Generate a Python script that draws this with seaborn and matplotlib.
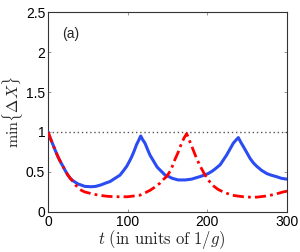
import numpy as np
import pandas as pd
import matplotlib
matplotlib.use('Agg')
import matplotlib.pyplot as plt
import seaborn as sns

# values
t_blue = [0, 3, 6.3, 9.5, 12.5, 15.5, 18.8, 22, 25, 28, 31.4, 34.5, 37.6, 42, 46, 54, 60,
          67, 72, 77.8, 84, 90.3, 95, 98.7, 102, 105, 108, 111, 114, 116.3, 119, 121.7,
          125, 128, 131, 134, 137, 140.5, 144, 147, 152, 156, 163.5, 172, 180, 190, 196,
          201, 206, 210, 216, 220, 224, 228, 232.5, 236, 238.8, 242, 245, 249, 253.5,
          258, 262, 268, 274.5, 280, 287, 293, 300]
dx_blue = [1.0, 0.92, 0.84, 0.76, 0.69, 0.63, 0.57, 0.51, 0.46, 0.42, 0.39, 0.37, 0.35,
           0.335, 0.32, 0.315, 0.32, 0.34, 0.36, 0.38, 0.42, 0.46, 0.52, 0.57, 0.63, 0.69,
           0.76, 0.84, 0.90, 0.95, 0.90, 0.86, 0.78, 0.71, 0.66, 0.61, 0.56, 0.525, 0.49,
           0.46, 0.44, 0.42, 0.40, 0.40, 0.41, 0.44, 0.46, 0.48, 0.51, 0.54, 0.59, 0.65,
           0.71, 0.78, 0.86, 0.90, 0.93, 0.87, 0.82, 0.75, 0.67, 0.61, 0.57, 0.52, 0.48,
           0.46, 0.44, 0.42, 0.41]
t_red = [0, 3, 6.3, 9.5, 12.5, 15.5, 18.8, 22, 25, 28, 31.4, 34.5, 37.6, 42, 46, 54, 63,
         75, 84, 100, 108, 115.5, 122, 128, 134, 140.5, 144, 148.5, 154, 159, 163.5, 167.6,
         171, 174, 178, 182, 186, 190.6, 196, 201, 207, 213.6, 220, 230.5, 237, 245,
         253.5, 262, 274.5, 284.6, 295, 300]
dx_red = [1.0, 0.92, 0.84, 0.76, 0.69, 0.63, 0.57, 0.51, 0.46, 0.42, 0.38, 0.34, 0.30,
          0.27, 0.25, 0.23, 0.21, 0.195, 0.19, 0.19, 0.20, 0.21, 0.24, 0.27, 0.31, 0.36,
          0.40, 0.44, 0.52, 0.65, 0.75, 0.86, 0.93, 0.98, 0.88, 0.78, 0.68, 0.58, 0.48,
          0.40, 0.33, 0.28, 0.25, 0.21, 0.20, 0.19, 0.185, 0.185, 0.20, 0.22, 0.25, 0.26]

x_ticks = [0, 100, 200, 300]
y_ticks = [0, 0.5, 1, 1.5, 2, 2.5]
y_ticklabels = ['0', '0.5', '1', '1.5', '2', '2.5']

sns.set_style('ticks')
plt.rcParams['font.family'] = ['Liberation Sans', 'DejaVu Sans']
plt.rcParams['mathtext.fontset'] = 'cm'

blue = pd.DataFrame({'t': t_blue, 'dx': dx_blue})
red = pd.DataFrame({'t': t_red, 'dx': dx_red})

fig = plt.figure(figsize=(3.0, 2.52), dpi=100)
ax = fig.add_axes([0.16, 0.159, 0.797, 0.793])

ax.axhline(1, color='#555555', lw=1.0, ls=(0, (1, 2)), zorder=1)
sns.lineplot(data=blue, x='t', y='dx', ax=ax, color='#2a4cf2', lw=2.2, zorder=3)
sns.lineplot(data=red, x='t', y='dx', ax=ax, color='#ff0000', lw=2.0,
             ls=(0, (4, 1.5, 1, 1.5)), zorder=4)

ax.set_xlim(0, 300)
ax.set_ylim(0, 2.5)
ax.set_xticks(x_ticks)
ax.set_yticks(y_ticks)
ax.set_yticklabels(y_ticklabels)
ax.tick_params(direction='in', length=2, width=0.6, labelsize=10, pad=2,
               top=True, right=True, colors='#888888', labelcolor='black')
for s in ax.spines.values():
    s.set_linewidth(0.8)
    s.set_color('#333333')

ax.text(18, 2.17, '(a)', fontsize=10)
ax.set_xlabel(r'$t\ (\mathrm{in\ units\ of\ }1/g)$', fontsize=12)
ax.set_ylabel(r'$\min\{\Delta X\}$', fontsize=11.5)
ax.xaxis.set_label_coords(0.473, -0.08)
ax.yaxis.set_label_coords(-0.095, 0.5)

fig.savefig('out.png', dpi=100)
